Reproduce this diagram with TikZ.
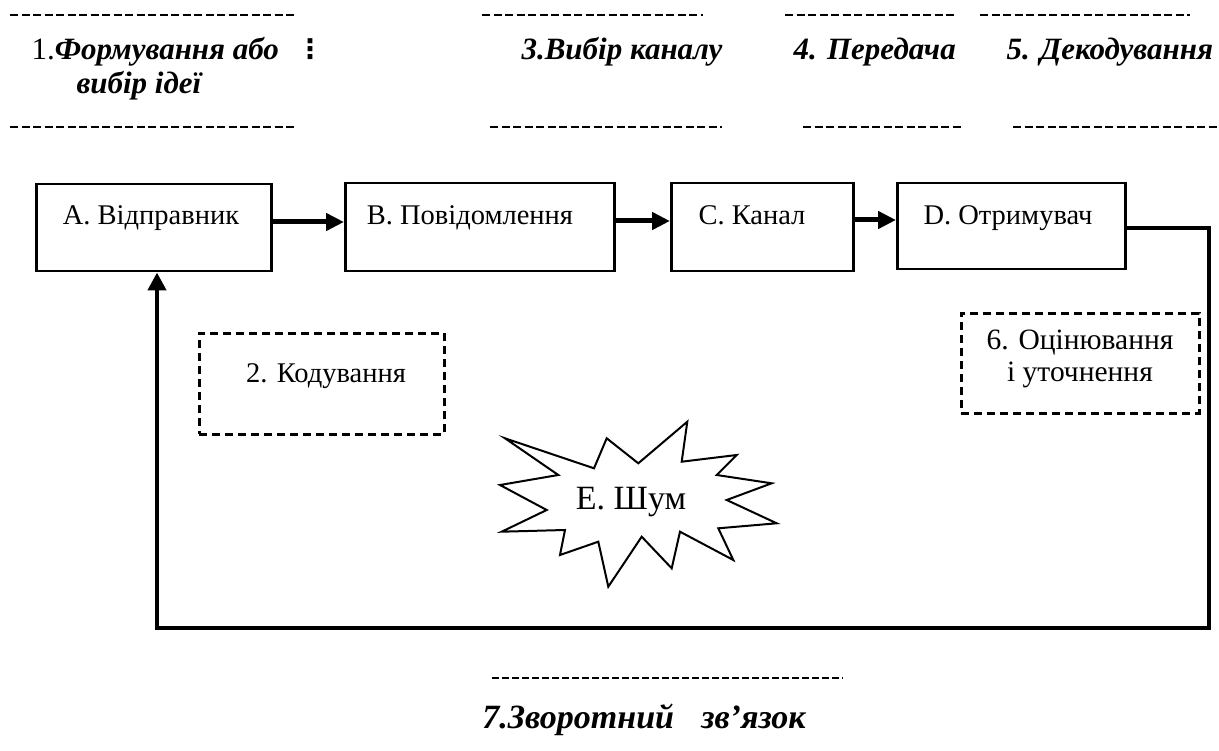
\documentclass[tikz,border=0pt]{standalone}
\usepackage{fontspec}
\setmainfont{Liberation Serif}
\newfontfamily\symfont{DejaVu Sans}
\usetikzlibrary{arrows.meta,calc}

\begin{document}
\begin{tikzpicture}[x=1pt,y=-1pt,
  box/.style={draw, line width=2.5pt, inner sep=0pt, anchor=north west},
  dbox/.style={draw, line width=2.6pt, dash pattern=on 8pt off 5pt, inner sep=0pt, anchor=north west},
  boxtext/.style={anchor=base, font=\fontsize{28.5}{33}\selectfont},
  steptext/.style={anchor=base west, font=\fontsize{31}{37}\selectfont\bfseries\itshape},
  rule/.style={line width=2.6pt, dash pattern=on 8pt off 3.5pt},
  flow/.style={line width=5pt, -{Triangle[length=18pt,width=17pt]}},
  fb/.style={line width=4.5pt, line join=miter}
]
\useasboundingbox (0,0) rectangle (1219,751);

% dashed rules above and below the step captions
\draw[rule] (10,15) coordinate (t1a) -- (295,15) coordinate (t1b);
\draw[rule] (482,15) coordinate (t2a) -- (703,15) coordinate (t2b);
\draw[rule] (785,15) coordinate (t3a) -- (954,15) coordinate (t3b);
\draw[rule] (980,15) coordinate (t4a) -- (1190,15) coordinate (t4b);
\draw[rule] (10,127) coordinate (b1a) -- (295,127) coordinate (b1b);
\draw[rule] (490,127) coordinate (b2a) -- (722,127) coordinate (b2b);
\draw[rule] (803,127) coordinate (b3a) -- (962,127) coordinate (b3b);
\draw[rule] (1013,127) coordinate (b4a) -- (1219,127) coordinate (b4b);

% step captions
\node[steptext] (s1) at (28,60) {{\mdseries\upshape 1.}Формування або};
\node[anchor=base west, font=\fontsize{27}{30}\selectfont\symfont\bfseries] (s1dots) at (293,59) {⋮};
\node[steptext] (s1b) at (73,94) {вибір ідеї};
\node[steptext] (s3) at (518,60) {3.Вибір каналу};
\node[steptext] (s4) at (790,60) {4. Передача};
\node[steptext] (s5) at (1003,60) {5. Декодування};

% main chain of boxes
\node[box, minimum width=235pt, minimum height=87pt] (A) at (35,183) {};
\node[box, minimum width=269pt, minimum height=88pt] (B) at (344,182) {};
\node[box, minimum width=182pt, minimum height=88pt] (C) at (670,182) {};
\node[box, minimum width=228pt, minimum height=86pt] (D) at (896,182) {};
\node[boxtext] (At) at (151,225) {A. Відправник};
\node[boxtext] (Bt) at (470,225) {B. Повідомлення};
\node[boxtext] (Ct) at (752,225) {C. Канал};
\node[boxtext] (Dt) at (1008,225) {D. Отримувач};

% arrows between the boxes
\coordinate (ab) at (270,222);
\coordinate (bc) at (613,221);
\coordinate (cd) at (852,220);
\draw[flow] (ab) -- (ab -| B.west);
\draw[flow] (bc) -- (bc -| C.west);
\draw[flow] (cd) -- (cd -| D.west);

% intermediate stages (dashed)
\node[dbox, minimum width=245pt, minimum height=101pt] (K) at (198,332) {};
\node[boxtext] (Kt) at (326,383) {2. Кодування};
\node[dbox, minimum width=238pt, minimum height=100pt] (O) at (960,312) {};
\node[boxtext, font=\fontsize{29.5}{34}\selectfont, align=center, anchor=north] (Ot) at (1080,326) {6. Оцінювання\\[-2pt]і уточнення};

% noise burst
\draw[line width=2pt, line join=miter, miter limit=20]
  (505,438.3) -- (594,468.3) -- (606.7,438.3) -- (638.3,463.3) -- (687.3,421.7)
  -- (681.7,461.7) -- (736.7,455) -- (716.7,475) -- (771.7,483.3) -- (726.7,500)
  -- (776.7,523.3) -- (718.3,528.3) -- (733.3,560) -- (680,531.7) -- (671.7,568.3)
  -- (641.7,536.7) -- (608.3,586.7) -- (598.3,541.7) -- (560,555) -- (565,530)
  -- (501.7,531.7) -- (546.7,510) -- (500,485) -- (558.3,475) -- cycle;
\node[anchor=base, font=\fontsize{34}{40}\selectfont] (E) at (631,509) {E. Шум};

% feedback loop from the receiver back to the sender
\coordinate (fs) at (1124,228);
\coordinate (fr) at (1209,628);
\coordinate (fl) at (157,628);
\draw[fb] (fs) -| (fr) -- (fl) -- (fl |- 0,290);
\draw[line width=4.5pt, -{Triangle[length=18pt,width=18pt]}] (fl |- 0,292) -- (fl |- A.south);

% feedback caption
\draw[rule, line width=2pt, dash pattern=on 7pt off 3pt] (492,678) coordinate (fbr1) -- (843,678) coordinate (fbr2);
\node[anchor=base, font=\fontsize{34}{40}\selectfont\bfseries\itshape] (F) at (644,728) {7.Зворотний\hspace{0.8em}зв’язок};
\end{tikzpicture}
\end{document}
